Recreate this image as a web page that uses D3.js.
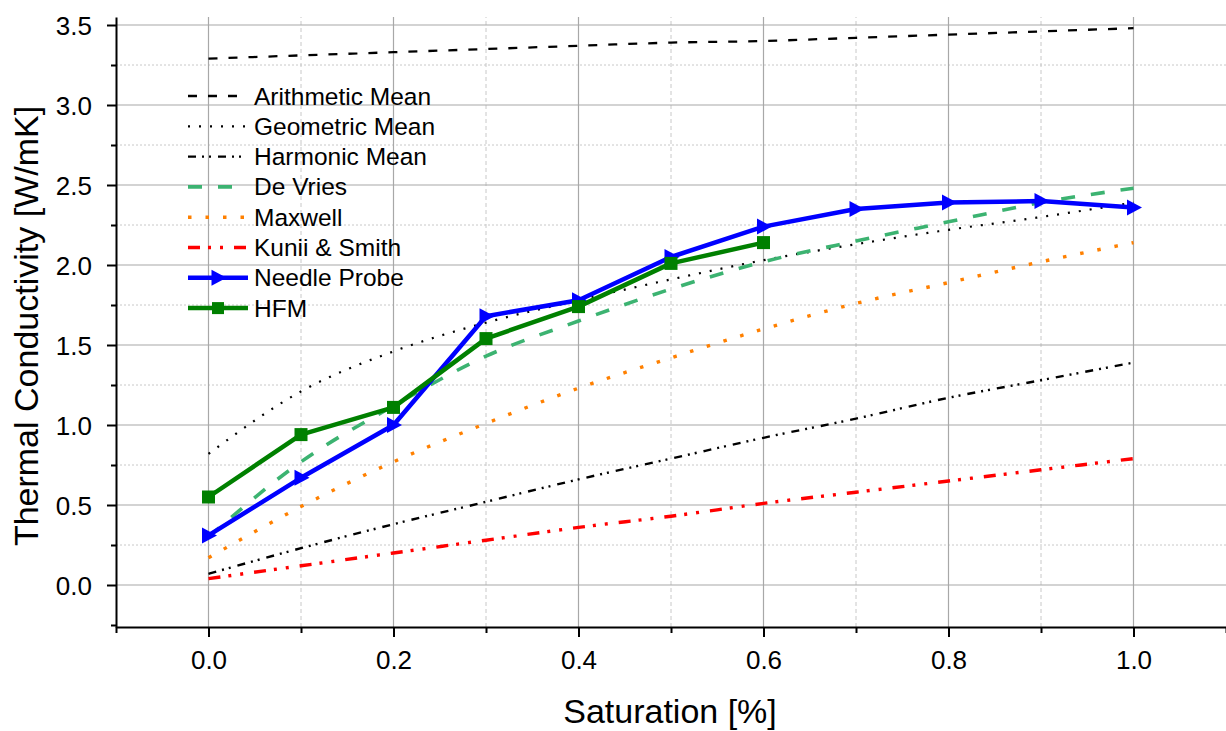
<!DOCTYPE html>
<html><head><meta charset="utf-8">
<script src="https://cdn.jsdelivr.net/npm/d3@7"></script>
<style>
body{margin:0;background:#fff}
svg{display:block}
text{font-family:"Liberation Sans",Arial,sans-serif;fill:#000}
</style>
</head><body>
<svg id="chart" width="1226" height="731"></svg>
<script>
// ---------- data ----------
const saturation     = [0.0, 0.1, 0.2, 0.3, 0.4, 0.5, 0.6, 0.7, 0.8, 0.9, 1.0];
const arithmeticMean = [3.29, 3.31, 3.33, 3.35, 3.37, 3.39, 3.40, 3.42, 3.44, 3.46, 3.48];
const geometricMean  = [0.82, 1.21, 1.46, 1.64, 1.78, 1.91, 2.03, 2.13, 2.22, 2.30, 2.39];
const harmonicMean   = [0.07, 0.23, 0.38, 0.52, 0.66, 0.79, 0.92, 1.04, 1.17, 1.28, 1.39];
const deVries        = [0.30, 0.77, 1.12, 1.43, 1.65, 1.85, 2.02, 2.15, 2.27, 2.39, 2.48];
const maxwell        = [0.17, 0.49, 0.77, 1.01, 1.23, 1.42, 1.60, 1.76, 1.89, 2.02, 2.14];
const kuniiSmith     = [0.04, 0.12, 0.20, 0.28, 0.36, 0.43, 0.51, 0.58, 0.65, 0.72, 0.79];
const needleSat      = [0.0, 0.1, 0.2, 0.3, 0.4, 0.5, 0.6, 0.7, 0.8, 0.9, 1.0];
const needleProbe    = [0.31, 0.67, 1.00, 1.68, 1.78, 2.05, 2.24, 2.35, 2.39, 2.40, 2.36];
const hfmSat         = [0.0, 0.1, 0.2, 0.3, 0.4, 0.5, 0.6];
const hfm            = [0.55, 0.94, 1.11, 1.54, 1.74, 2.01, 2.14];

const xTicks      = [0.0, 0.2, 0.4, 0.6, 0.8, 1.0];
const xMinorTicks = [-0.1, 0.1, 0.3, 0.5, 0.7, 0.9, 1.1];
const yTicks      = [0.0, 0.5, 1.0, 1.5, 2.0, 2.5, 3.0, 3.5];
const yMinorTicks = [-0.25, 0.25, 0.75, 1.25, 1.75, 2.25, 2.75, 3.25];

const seriesNames = ["Arithmetic Mean","Geometric Mean","Harmonic Mean","De Vries","Maxwell","Kunii & Smith","Needle Probe","HFM"];
const xTitle = "Saturation [%]";
const yTitle = "Thermal Conductivity [W/mK]";

// ---------- layout ----------
const svg = d3.select("#chart");
const x = d3.scaleLinear().domain([-0.1, 1.1]).range([116, 1226]);
const y = d3.scaleLinear().domain([-0.2625, 3.55]).range([627, 17]);
const X0 = x(-0.1), X1 = x(1.1), Y0 = y(-0.2625), Y1 = y(3.55);

// grid
const grid = svg.append("g");
grid.selectAll(".ymin").data(yMinorTicks.filter(d => d > 0)).join("line")
  .attr("x1", X0).attr("x2", X1).attr("y1", d => y(d)).attr("y2", d => y(d))
  .attr("stroke", "#c8c8c8").attr("stroke-width", 1).attr("stroke-dasharray", "2,2");
grid.selectAll(".xmin").data(xMinorTicks.filter(d => d > -0.1 && d < 1.1)).join("line")
  .attr("y1", Y0).attr("y2", Y1).attr("x1", d => x(d)).attr("x2", d => x(d))
  .attr("stroke", "#c8c8c8").attr("stroke-width", 1).attr("stroke-dasharray", "4,3");
grid.selectAll(".ymaj").data(yTicks).join("line")
  .attr("x1", X0).attr("x2", X1).attr("y1", d => y(d)).attr("y2", d => y(d))
  .attr("stroke", "#a8a8a8").attr("stroke-width", 1.2);
grid.selectAll(".xmaj").data(xTicks).join("line")
  .attr("y1", Y0).attr("y2", Y1).attr("x1", d => x(d)).attr("x2", d => x(d))
  .attr("stroke", "#a8a8a8").attr("stroke-width", 1.2);

// model curves
const models = [
  {v: arithmeticMean, color: "#000", w: 2.3, dash: "9,11"},
  {v: geometricMean,  color: "#000", w: 2.2, dash: "2,9"},
  {v: harmonicMean,   color: "#000", w: 2.4, dash: "8,6,2,5,2,7"},
  {v: deVries,        color: "#3cb371", w: 3.6, dash: "14,16"},
  {v: maxwell,        color: "#ff8000", w: 3.4, dash: "3.5,14"},
  {v: kuniiSmith,     color: "#ff0000", w: 3.4, dash: "12,8,3,9,3,11"}
];
const smooth = d3.line().x(d => x(d[0])).y(d => y(d[1])).curve(d3.curveMonotoneX);
models.forEach(m => {
  svg.append("path").datum(saturation.map((s, i) => [s, m.v[i]]))
    .attr("d", smooth).attr("fill", "none")
    .attr("stroke", m.color).attr("stroke-width", m.w).attr("stroke-dasharray", m.dash);
});

// measured series
const straight = d3.line().x(d => x(d[0])).y(d => y(d[1]));
const tri = "M-6.5,-8L8.5,0L-6.5,8Z";
const np = needleSat.map((s, i) => [s, needleProbe[i]]);
svg.append("path").datum(np).attr("d", straight).attr("fill", "none")
  .attr("stroke", "#0000ff").attr("stroke-width", 4.5).attr("stroke-linejoin", "round");
svg.selectAll(".np").data(np).join("path")
  .attr("d", tri).attr("transform", d => `translate(${x(d[0])},${y(d[1])})`).attr("fill", "#0000ff");

const hf = hfmSat.map((s, i) => [s, hfm[i]]);
svg.append("path").datum(hf).attr("d", straight).attr("fill", "none")
  .attr("stroke", "#008000").attr("stroke-width", 4.5).attr("stroke-linejoin", "round");
svg.selectAll(".hf").data(hf).join("rect")
  .attr("x", d => x(d[0]) - 6.5).attr("y", d => y(d[1]) - 6.5).attr("width", 13).attr("height", 13)
  .attr("fill", "#008000");

// axes
const fmt = d3.format(".1f");
const xAxis = svg.append("g").attr("transform", `translate(0,${Y0})`)
  .call(d3.axisBottom(x).tickValues(xTicks).tickSize(10).tickSizeOuter(0).tickFormat(fmt));
svg.append("g").attr("transform", `translate(0,${Y0})`)
  .call(d3.axisBottom(x).tickValues(xMinorTicks).tickSize(6).tickSizeOuter(0).tickFormat(""))
  .call(g => g.select(".domain").remove());
xAxis.selectAll("text").attr("font-size", 26).attr("y", 0).attr("dy", 0)
  .attr("transform", "translate(0,42)");

const yAxis = svg.append("g").attr("transform", `translate(${X0},0)`)
  .call(d3.axisLeft(y).tickValues(yTicks).tickSize(9).tickSizeOuter(0).tickPadding(15).tickFormat(fmt));
svg.append("g").attr("transform", `translate(${X0},0)`)
  .call(d3.axisLeft(y).tickValues(yMinorTicks).tickSize(5).tickSizeOuter(0).tickFormat(""))
  .call(g => g.select(".domain").remove());
yAxis.selectAll("text").attr("font-size", 26).attr("dy", "0.35em");

svg.selectAll(".domain").attr("stroke", "#000").attr("stroke-width", 2);
svg.selectAll(".tick line").attr("stroke", "#000").attr("stroke-width", 2);
svg.selectAll(".tick text").attr("font-family", '"Liberation Sans",Arial,sans-serif').attr("fill", "#000");

// titles
svg.append("text").attr("x", 670).attr("y", 723).attr("text-anchor", "middle")
  .attr("font-size", 34).text(xTitle);
svg.append("text").attr("transform", "translate(38,326) rotate(-90)").attr("text-anchor", "middle")
  .attr("font-size", 34).text(yTitle);

// legend
const legendStyles = [
  ...models.map(m => ({color: m.color, w: m.w, dash: m.dash})),
  {color: "#0000ff", w: 4.5, marker: "tri"},
  {color: "#008000", w: 4.5, marker: "sq"}
];
const lg = svg.append("g");
seriesNames.forEach((name, i) => {
  const cy = 96 + i * 30.3;
  const st = legendStyles[i];
  lg.append("line").attr("x1", 188).attr("x2", 248).attr("y1", cy).attr("y2", cy)
    .attr("stroke", st.color).attr("stroke-width", st.w)
    .attr("stroke-dasharray", st.dash || null);
  if (st.marker === "tri") lg.append("path").attr("d", tri).attr("transform", `translate(218,${cy})`).attr("fill", st.color);
  if (st.marker === "sq") lg.append("rect").attr("x", 212).attr("y", cy - 6).attr("width", 12).attr("height", 12).attr("fill", st.color);
  lg.append("text").attr("x", 254).attr("y", cy + 8.5).attr("font-size", 24.5).text(name);
});
</script>
</body></html>
